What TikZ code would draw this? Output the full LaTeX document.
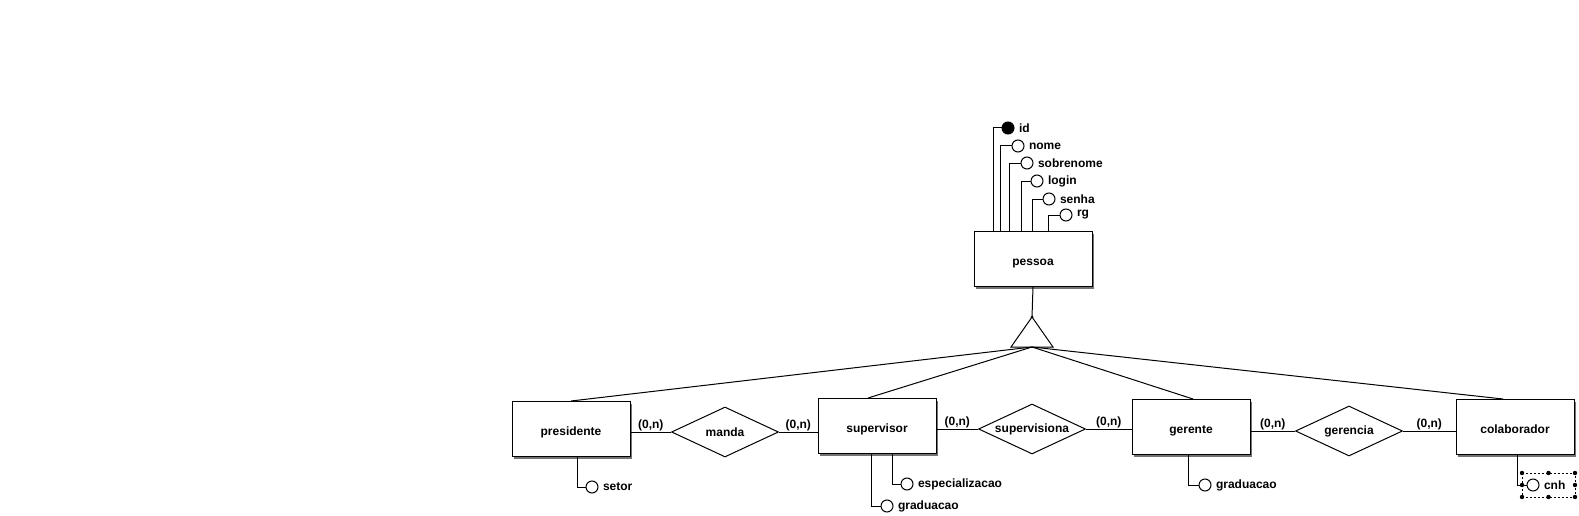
\documentclass[tikz,border=0pt]{standalone}
\usepackage{fontspec}
\setmainfont{Liberation Sans}
\usetikzlibrary{shapes,positioning,calc,shadows}

\begin{document}
\begin{tikzpicture}[x=1pt, y=-1pt, line width=1pt,
    font=\bfseries\fontsize{12}{14}\selectfont,
    entity/.style={draw, fill=white, minimum width=118pt, minimum height=55pt, inner sep=0pt,
        text height=12pt, text depth=0pt,
        drop shadow={opacity=1, fill=black!55, shadow xshift=2pt, shadow yshift=-2pt}},
    rel/.style={draw, diamond, aspect=2.14, minimum width=107pt, minimum height=50pt, inner sep=0pt},
    attr/.style={draw, circle, fill=white, minimum size=12pt, inner sep=0pt},
    card/.style={midway, above=1pt, inner sep=0pt},
    sel/.style={line width=0.8pt, dash pattern=on 2pt off 2pt}
  ]
    \useasboundingbox (0,0) rectangle (1579,516);

    % Entities
    \node[entity] (pes) at (1033,259) {pessoa};
    \node[entity] (pre) at (571,429) {presidente};
    \node[entity] (sup) at (877,426) {supervisor};
    \node[entity] (ger) at (1191,427) {gerente};
    \node[entity] (col) at (1515,427) {colaborador};

    % Relationships
    \node[rel] (man) at (725,432) {manda};
    \node[rel] (svs) at (1032,429) {supervisiona};
    \node[rel] (grc) at (1349,431) {gerencia};

    % Attributes of pessoa
    \node[attr, fill=black, label={[inner sep=0pt, label distance=4pt]right:id}] (id) at (1008,128) {};
    \draw ([xshift=-40pt]pes.north) |- (id);
    \foreach \nm/\off/\cx/\cy in {nome/-33/1018/146, sobrenome/-24/1027/163,
        login/-12/1037/181, senha/-1/1049/199, rg/15/1066/215} {
        \node[attr, label={[inner sep=0pt, label distance=4pt]right:\nm}] (\nm) at (\cx,\cy) {};
        \draw ([xshift=\off pt]pes.north) |- (\nm);
    }

    % Specialization
    \coordinate (apex) at (1032,317);
    \coordinate (gen) at (1032,347);
    \draw (1011,347) -- (apex) -- (1053,347) -- cycle;
    \fill (apex) circle (1.5);
    \draw (pes.south) -- (apex);
    \draw (gen) -- (pre.north);
    \draw (gen) -- ([xshift=-9pt]sup.north);
    \draw (gen) -- ([xshift=2pt]ger.north);
    \draw (gen) -- ([xshift=-12pt]col.north);

    % Relationship lines
    \draw (pre.east |- man.west) -- node[card] {(0,n)} (man.west);
    \draw (man.east) -- node[card] {(0,n)} (sup.west |- man.east);
    \draw (sup.east |- svs.west) -- node[card] {(0,n)} (svs.west);
    \draw (svs.east) -- node[card] {(0,n)} (ger.west |- svs.east);
    \draw (ger.east |- grc.west) -- node[card] {(0,n)} (grc.west);
    \draw (grc.east) -- node[card] {(0,n)} (col.west |- grc.east);

    % Attributes of the specialized entities
    \node[attr, label={[inner sep=0pt, label distance=4pt]right:setor}] (setor) at (592,487) {};
    \draw ([xshift=6pt]pre.south) |- (setor);
    \node[attr, label={[inner sep=0pt, label distance=4pt]right:especializacao}] (esp) at (907,484) {};
    \draw ([xshift=15pt]sup.south) |- (esp);
    \node[attr, label={[inner sep=0pt, label distance=4pt]right:graduacao}] (gsup) at (887,506) {};
    \draw ([xshift=-6pt]sup.south) |- (gsup);
    \node[attr, label={[inner sep=0pt, label distance=4pt]right:graduacao}] (gger) at (1205,485) {};
    \draw ([xshift=-3pt]ger.south) |- (gger);
    \node[attr, label={[inner sep=0pt, label distance=4pt]right:cnh}] (cnh) at (1533,485) {};
    \draw ([xshift=2pt]col.south) |- (cnh);

    % Selection handles round cnh
    \draw[sel] ([shift={(-11,-12)}]cnh.center) rectangle ([shift={(42,12)}]cnh.center);
    \foreach \dx/\dy in {-11/-12, 15.5/-12, 42/-12, -11/0, 42/0, -11/12, 15.5/12, 42/12} {
        \fill ([shift={(\dx,\dy)}]cnh.center) circle (2.2);
    }
\end{tikzpicture}
\end{document}
